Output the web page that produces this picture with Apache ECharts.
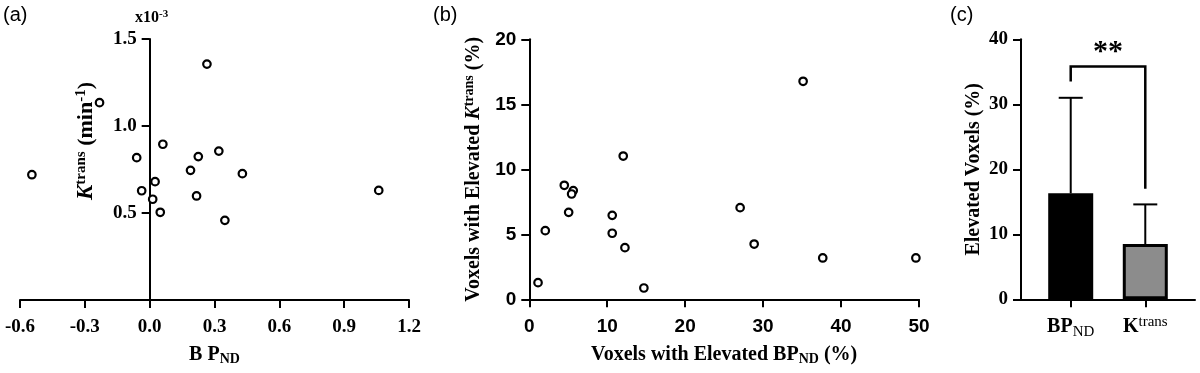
<!DOCTYPE html>
<html><head><meta charset="utf-8">
<script src="https://cdn.jsdelivr.net/npm/echarts@6/dist/echarts.min.js"></script>
<style>html,body{margin:0;padding:0;background:#fff}#c{width:1200px;height:373px}</style>
</head><body><div id="c"></div>
<script>
// ---------- Panel (a) ----------
const bpA = [-0.545, -0.232, 0.265, -0.06, 0.061, 0.025, -0.037, 0.014, 0.049, 0.189, 0.225, 0.32, 0.217, 0.348, 0.429, 1.06];
const ktA = [0.72, 1.134, 1.356, 0.818, 0.895, 0.68, 0.628, 0.579, 0.504, 0.745, 0.824, 0.856, 0.598, 0.458, 0.726, 0.63];
const xTicksA = [-0.6, -0.3, 0.0, 0.3, 0.6, 0.9, 1.2];
const yTicksA = [0, 0.5, 1.0, 1.5];
// ---------- Panel (b) ----------
const voxBP = [1.12, 2.05, 4.49, 5.64, 5.43, 5.05, 10.64, 10.64, 12.05, 12.27, 14.7, 27.05, 28.85, 35.13, 37.65, 49.6];
const voxK = [1.28, 5.28, 8.77, 8.36, 8.1, 6.69, 6.46, 5.08, 11.02, 3.97, 0.87, 7.05, 4.25, 16.77, 3.18, 3.18];
const xTicksB = [0, 10, 20, 30, 40, 50];
const yTicksB = [0, 5, 10, 15, 20];
// ---------- Panel (c) ----------
const categoriesC = ['BPND', 'Ktrans'];
const meansC = [16.3, 8.5];
const sdTopC = [31.0, 14.6];
const yTicksC = [0, 10, 20, 30, 40];
const bracketC = [33.5, 35.8, 17.0]; // left end, top, right end
const sigLabel = '**';

const SERIF = '"Liberation Serif", "Times New Roman", serif';
const SANS = '"Liberation Sans", Arial, sans-serif';
const K = '#000';

// grid (a) geometry
const gA = { left: 20, right: 791, top: 39, bottom: 73 };
const gAwidth = 1200 - gA.left - gA.right;
// y axis of (a) sits at x = 0: offset derived from the x scale
const yAoffset = -gAwidth * (0 - xTicksA[0]) / (xTicksA[xTicksA.length - 1] - xTicksA[0]);

const lineStyle = { color: K, width: 2 };
function valAxis(ticks, extra) {
  return Object.assign({
    type: 'value', min: ticks[0], max: ticks[ticks.length - 1], interval: ticks[1] - ticks[0],
    axisLine: { show: true, onZero: true, lineStyle },
    axisTick: { show: true, length: 8, lineStyle },
    splitLine: { show: false },
    nameMoveOverlap: false
  }, extra);
}
const serifLab = { fontFamily: SERIF, fontWeight: 'bold', fontSize: 19, color: K };
const sansLab = { fontFamily: SANS, fontWeight: 'bold', fontSize: 19, color: K };
const nameBase = { fontFamily: SERIF, fontWeight: 'bold', fontSize: 20, color: K };
const richSub = { fontFamily: SERIF, fontWeight: 'bold', fontSize: 14, color: K, padding: [9, 0, 0, 0] };
const richSup = { fontFamily: SERIF, fontWeight: 'bold', fontSize: 14, color: K, padding: [0, 0, 9, 0] };

// slotted category axis for panel (c)
const slotsC = ['', '', categoriesC[0], '', '', categoriesC[1], '', ''];
const slotIdx = [2, 5];

const scatterStyle = { color: '#fff', borderColor: K, borderWidth: 2.2, opacity: 1 };

const option = {
  animation: false,
  backgroundColor: '#fff',
  grid: [
    Object.assign({ outerBoundsMode: 'none' }, gA),
    { left: 529.3, right: 281, top: 39.3, bottom: 73.7, outerBoundsMode: 'none' },
    { left: 1021, right: 5, top: 39.3, bottom: 73.7, outerBoundsMode: 'none' }
  ],
  xAxis: [
    valAxis(xTicksA, {
      gridIndex: 0,
      axisLabel: Object.assign({ margin: 18, formatter: v => v.toFixed(1) }, serifLab),
      name: 'B P{sub|ND}', nameLocation: 'middle', nameGap: 43,
      nameTextStyle: Object.assign({ rich: { sub: richSub } }, nameBase)
    }),
    valAxis(xTicksB, {
      gridIndex: 1,
      axisLabel: Object.assign({ margin: 18 }, sansLab),
      name: 'Voxels with Elevated BP{sub|ND}{n| (%)}', nameLocation: 'middle', nameGap: 44,
      nameTextStyle: Object.assign({ rich: { sub: richSub, n: nameBase } }, nameBase)
    }),
    {
      type: 'category', gridIndex: 2, data: slotsC, boundaryGap: false,
      axisLine: { show: true, lineStyle },
      axisTick: { show: true, length: 8, lineStyle, interval: (i, v) => v !== '' },
      axisLabel: {
        interval: (i, v) => v !== '', margin: 15,
        formatter: v => v === 'BPND' ? '{b|BP}{s|ND}' : (v === 'Ktrans' ? '{b|K}{t|trans}' : ''),
        rich: {
          b: { fontFamily: SERIF, fontWeight: 'bold', fontSize: 20, color: K },
          s: { fontFamily: SERIF, fontWeight: 'normal', fontSize: 15, color: K, padding: [10, 0, 0, 0] },
          t: { fontFamily: SERIF, fontWeight: 'normal', fontSize: 15, color: K, padding: [0, 0, 10, 0] }
        }
      },
      splitLine: { show: false }
    }
  ],
  yAxis: [
    valAxis(yTicksA, {
      gridIndex: 0, offset: yAoffset,
      axisLine: { show: true, onZero: false, lineStyle },
      axisLabel: Object.assign({ margin: 13, formatter: v => v === 0 ? '' : v.toFixed(1) }, serifLab)
    }),
    valAxis(yTicksB, {
      gridIndex: 1,
      axisLabel: Object.assign({ margin: 13 }, sansLab),
      name: 'Voxels with Elevated {k|K}{sup|trans}{n| (%)}', nameLocation: 'middle', nameGap: 44, nameRotate: 90,
      nameTextStyle: Object.assign({ rich: { sup: richSup, n: nameBase, k: Object.assign({}, nameBase, { fontStyle: 'italic' }) } }, nameBase)
    }),
    valAxis(yTicksC, {
      gridIndex: 2,
      axisLabel: Object.assign({ margin: 13 }, serifLab),
      name: 'Elevated Voxels (%)', nameLocation: 'middle', nameGap: 37, nameRotate: 90,
      nameTextStyle: nameBase
    })
  ],
  series: [
    {
      type: 'scatter', xAxisIndex: 0, yAxisIndex: 0, symbol: 'circle', symbolSize: 7.5,
      itemStyle: scatterStyle, data: bpA.map((x, i) => [x, ktA[i]])
    },
    {
      type: 'scatter', xAxisIndex: 1, yAxisIndex: 1, symbol: 'circle', symbolSize: 7.5,
      itemStyle: scatterStyle, data: voxBP.map((x, i) => [x, voxK[i]])
    },
    {
      type: 'bar', xAxisIndex: 2, yAxisIndex: 2, barWidth: 45,
      data: slotsC.map(c => {
        const j = categoriesC.indexOf(c);
        if (j < 0) return '-';
        return { value: meansC[j], itemStyle: { color: j === 0 ? '#000' : '#8c8c8c', borderColor: K, borderWidth: 3, opacity: 1 } };
      })
    },
    {
      type: 'custom', xAxisIndex: 2, yAxisIndex: 2, z: 5,
      data: categoriesC.map((c, j) => [slotIdx[j], meansC[j], sdTopC[j]]),
      renderItem(params, api) {
        const a = api.coord([api.value(0), api.value(1)]);
        const t = api.coord([api.value(0), api.value(2)]);
        const st = { stroke: K, lineWidth: 2 };
        return { type: 'group', children: [
          { type: 'line', shape: { x1: a[0], y1: a[1], x2: t[0], y2: t[1] }, style: st },
          { type: 'line', shape: { x1: t[0] - 12, y1: t[1], x2: t[0] + 12, y2: t[1] }, style: st }
        ]};
      }
    },
    {
      type: 'custom', xAxisIndex: 2, yAxisIndex: 2, z: 5,
      data: [[slotIdx[0], slotIdx[1], bracketC[0], bracketC[1], bracketC[2]]],
      renderItem(params, api) {
        const p1 = api.coord([api.value(0), api.value(2)]);
        const p2 = api.coord([api.value(0), api.value(3)]);
        const p3 = api.coord([api.value(1), api.value(3)]);
        const p4 = api.coord([api.value(1), api.value(4)]);
        return { type: 'group', children: [
          { type: 'polyline', shape: { points: [p1, p2, p3, p4] }, style: { stroke: K, lineWidth: 2.5, fill: null } },
          { type: 'text', x: (p2[0] + p3[0]) / 2, y: p2[1] + 1,
            style: { text: sigLabel, fill: K, font: 'bold 30px ' + SERIF, align: 'center', verticalAlign: 'bottom' } }
        ]};
      }
    }
  ],
  graphic: [
    { type: 'text', x: 3, y: 15, style: { text: '(a)', fill: K, font: '20px ' + SANS, verticalAlign: 'middle' } },
    { type: 'text', x: 433, y: 15, style: { text: '(b)', fill: K, font: '20px ' + SANS, verticalAlign: 'middle' } },
    { type: 'text', x: 950, y: 15, style: { text: '(c)', fill: K, font: '20px ' + SANS, verticalAlign: 'middle' } },
    { type: 'text', x: 135, y: 18, style: {
      text: 'x10{s|-3}', fill: K, font: 'bold 16px ' + SERIF, verticalAlign: 'middle',
      rich: { s: { fontFamily: SERIF, fontWeight: 'bold', fontSize: 11, fill: K, padding: [0, 0, 7, 0] } } } },
    { type: 'text', x: 86, y: 141, rotation: Math.PI / 2, style: {
      text: '{k|K}{s|trans}{n| (min}{s|-1}{n|)}', align: 'center', verticalAlign: 'middle',
      rich: {
        k: { fontFamily: SERIF, fontWeight: 'bold', fontStyle: 'italic', fontSize: 23, fill: K },
        n: { fontFamily: SERIF, fontWeight: 'bold', fontSize: 22, fill: K },
        s: { fontFamily: SERIF, fontWeight: 'bold', fontSize: 15, fill: K, padding: [0, 0, 10, 0] }
      } } }
  ]
};
const chart = echarts.init(document.getElementById('c'), null, { renderer: 'canvas' });
chart.setOption(option);
</script>
</body></html>
